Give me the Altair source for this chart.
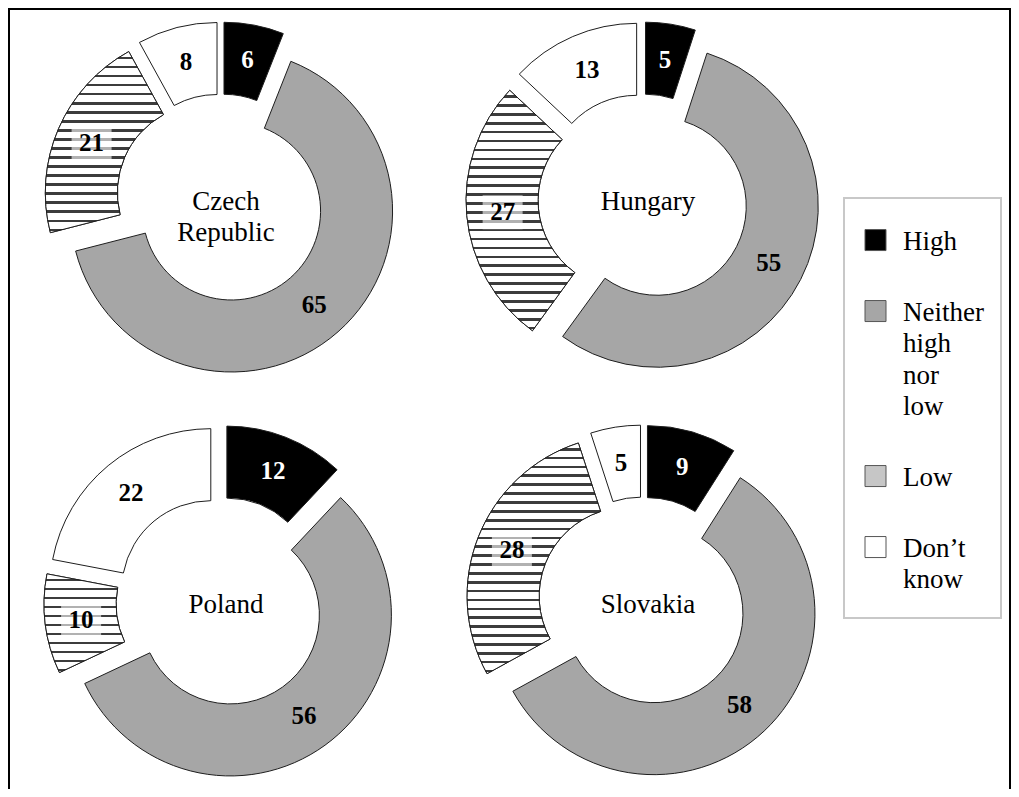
import math
import altair as alt
import pandas as pd

# ---------------- data ----------------
countries = ["Czech Republic", "Hungary", "Poland", "Slovakia"]
categories = ["High", "Neither high nor low", "Low", "Don’t know"]
high = [6, 5, 12, 9]
neither = [65, 55, 56, 58]
low = [21, 27, 10, 28]
dont_know = [8, 13, 22, 5]

series = [high, neither, low, dont_know]
rows = []
for i, c in enumerate(countries):
    for j, cat in enumerate(categories):
        rows.append({"country": c, "cidx": i, "category": cat, "order": j, "value": series[j][i]})
df = pd.DataFrame(rows)
labels_df = pd.DataFrame({"country": countries, "cidx": list(range(len(countries)))})

# ---------------- style / layout ----------------
W, H = 1003, 781
CX0, CY0, DX, DY = 213, 191, 422, 403
EXPLODE = 16
R_OUT, R_IN = 161, 89
R_LAB = (R_OUT + R_IN) / 2
SERIF = "Liberation Serif"
colors = ["#000000", "#a6a6a6", "#c6c6c6", "#ffffff"]
OUTLINE = "#1e1e1e"

theta_scale = alt.Scale(domain=[0, 100], range=[0, 2 * math.pi])

base = (
    alt.Chart(df)
    .transform_window(end="sum(value)", groupby=["country"],
                      sort=[alt.SortField("order")], frame=[None, 0])
    .transform_calculate(start="datum.end - datum.value")
    .transform_calculate(col="datum.cidx % 2", row="floor(datum.cidx / 2)")
    .transform_calculate(mid="PI * (datum.start + datum.end) / 100",
                         cx=f"{CX0} + datum.col * {DX}",
                         cy=f"{CY0} + datum.row * {DY}")
    .transform_calculate(px=f"datum.cx + {EXPLODE} * sin(datum.mid)",
                         py=f"datum.cy - {EXPLODE} * cos(datum.mid)")
    .transform_calculate(lx=f"datum.px + {R_LAB} * sin(datum.mid)",
                         ly=f"datum.py - {R_LAB} * cos(datum.mid)")
)

xpx = alt.X("px:Q", scale=None, axis=None)
ypx = alt.Y("py:Q", scale=None, axis=None)

legend = alt.Legend(
    title=None, orient="none", legendX=854, legendY=228, padding=0,
    symbolType="M-1,-1.9L1,-1.9L1,0.1L-1,0.1Z", symbolSize=441,
    symbolStrokeColor="#555555", symbolStrokeWidth=1, symbolOpacity=1,
    labelFont=SERIF, labelFontSize=27, labelColor="black",
    labelBaseline="alphabetic", labelExpr="split(datum.label, ' ')",
    labelLimit=300, labelOffset=14, rowPadding=43,
)

arcs = base.mark_arc(innerRadius=R_IN, outerRadius=R_OUT, stroke=OUTLINE, strokeWidth=1).encode(
    x=xpx, y=ypx,
    theta=alt.Theta("start:Q", scale=theta_scale, stack=None),
    theta2="end:Q",
    color=alt.Color("category:N", scale=alt.Scale(domain=categories, range=colors),
                    sort=categories, legend=legend),
)

# striped texture for the "Low" slices
def y_extent(a0, a1):
    ys = []
    for k in range(201):
        a = math.radians(a0 + (a1 - a0) * k / 200)
        for rad in (R_IN, R_OUT):
            ys.append(-rad * math.cos(a))
    return max(ys) - min(ys)

def stripes(n, dark="#3c3c3c"):
    stops = []
    for k in range(n):
        b = k / n
        stops += [
            alt.GradientStop(offset=b, color="#ffffff"),
            alt.GradientStop(offset=b + 0.55 / n, color="#ffffff"),
            alt.GradientStop(offset=b + 0.55 / n, color=dark),
            alt.GradientStop(offset=b + 0.85 / n, color=dark),
            alt.GradientStop(offset=b + 0.85 / n, color="#ffffff"),
        ]
    stops.append(alt.GradientStop(offset=1, color="#ffffff"))
    return alt.Gradient(gradient="linear", x1=0, x2=0, y1=0, y2=1, stops=stops)

low_layers = []
for i, c in enumerate(countries):
    s = (high[i] + neither[i]) * 3.6
    e = s + low[i] * 3.6
    n = max(3, round(y_extent(s, e) / 9))
    low_layers.append(
        base.transform_filter((alt.datum.country == c) & (alt.datum.category == "Low"))
        .mark_arc(innerRadius=R_IN, outerRadius=R_OUT, fill=stripes(n), stroke=OUTLINE, strokeWidth=1)
        .encode(x=xpx, y=ypx,
                theta=alt.Theta("start:Q", scale=theta_scale, stack=None),
                theta2="end:Q")
    )

label_bg = (
    base.transform_filter(alt.datum.category == "Low")
    .transform_calculate(bx1="datum.lx - 20", bx2="datum.lx + 20",
                         by1="datum.ly - 17", by2="datum.ly + 17")
    .mark_rect(fill="white", opacity=0.6)
    .encode(x=alt.X("bx1:Q", scale=None, axis=None), x2="bx2:Q",
            y=alt.Y("by1:Q", scale=None, axis=None), y2="by2:Q")
)

nums = base.mark_text(font=SERIF, fontSize=25, fontWeight="bold",
                      align="center", baseline="middle").encode(
    x=alt.X("lx:Q", scale=None, axis=None),
    y=alt.Y("ly:Q", scale=None, axis=None),
    text="value:Q",
    color=alt.condition(alt.datum.category == "High", alt.value("white"), alt.value("black")),
)

names = (
    alt.Chart(labels_df)
    .transform_calculate(cx=f"{CX0} + (datum.cidx % 2) * {DX}",
                         cy=f"{CY0} + floor(datum.cidx / 2) * {DY}")
    .mark_text(font=SERIF, fontSize=27, align="center", baseline="middle",
               lineBreak=" ", lineHeight=31, dx=5, dy=3, color="black")
    .encode(x=alt.X("cx:Q", scale=None, axis=None),
            y=alt.Y("cy:Q", scale=None, axis=None),
            text="country:N")
)

one = alt.Data(values=[{"k": 1}])
frame_top = alt.Chart(one).mark_rule(color="black", strokeWidth=2).encode(
    x=alt.value(0), x2=alt.value(W), y=alt.value(1))
frame_left = alt.Chart(one).mark_rule(color="black", strokeWidth=2).encode(
    x=alt.value(1), y=alt.value(0), y2=alt.value(H))
frame_right = alt.Chart(one).mark_rule(color="black", strokeWidth=2).encode(
    x=alt.value(W - 1), y=alt.value(0), y2=alt.value(H))
legend_box = alt.Chart(one).mark_rect(fill="white", stroke="#c8c8c8", strokeWidth=2).encode(
    x=alt.value(836), x2=alt.value(993), y=alt.value(190), y2=alt.value(610))

chart = alt.layer(
    frame_top, frame_left, frame_right, legend_box,
    arcs, *low_layers, label_bg, nums, names,
).properties(
    width=W, height=H, padding=0,
    autosize=alt.AutoSizeParams(type="none"),
).configure_view(stroke=None).configure(
    background="white",
    style={"guide-label": {"lineHeight": 31.5}},
)

chart.save("out.html", embed_options={"renderer": "svg", "actions": False})
